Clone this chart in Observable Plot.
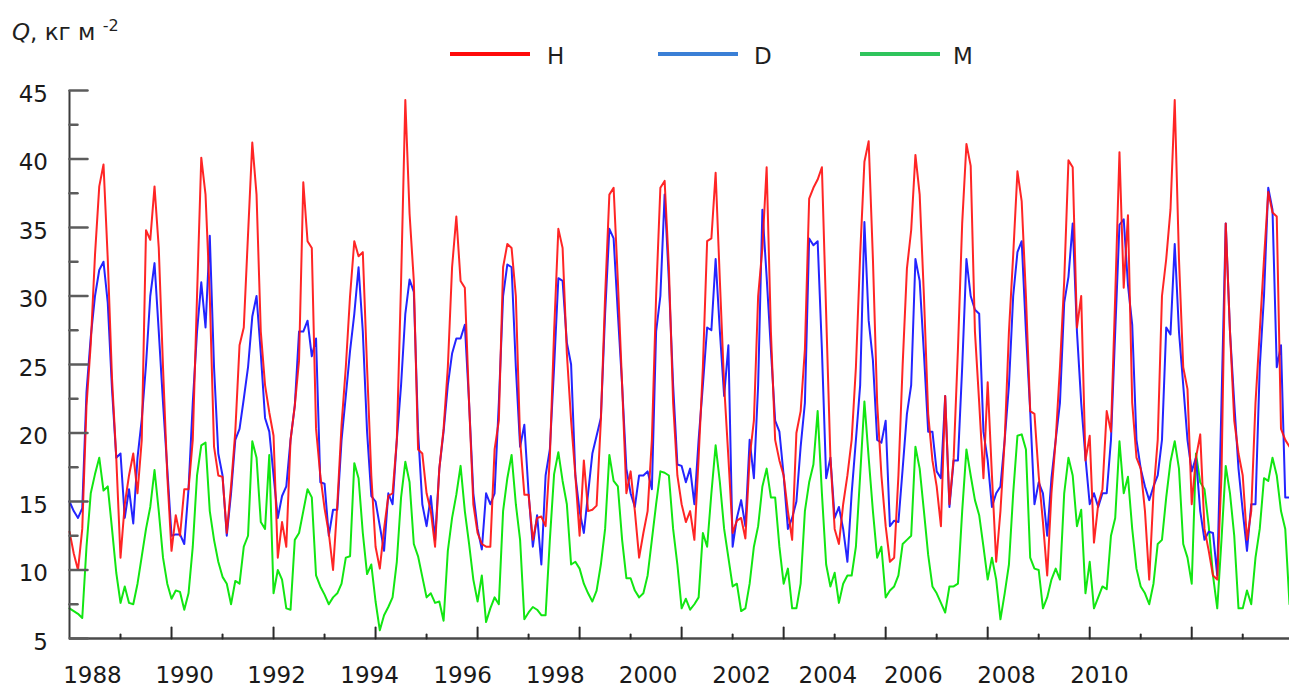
<!DOCTYPE html>
<html>
<head>
<meta charset="utf-8">
<script src="https://cdn.jsdelivr.net/npm/d3@7"></script>
<script src="https://cdn.jsdelivr.net/npm/@observablehq/plot@0.6"></script>
<style>
  body { margin: 0; background: #fff; font-family: "DejaVu Sans", sans-serif; }
  #wrap { width: 1289px; height: 688px; position: relative; overflow: hidden; background: #fff; }
  #head { position: relative; height: 85px; }
  .ylab { position: absolute; left: 12px; top: 18.5px; font-size: 23px; color: #1f1f1f; white-space: nowrap; }
  .ylab i { font-style: italic; }
  .ylab .sup { font-size: 16px; position: relative; top: -9px; }
  .sw { position: absolute; height: 4px; top: 52px; }
  .lt { position: absolute; top: 42.5px; font-size: 23px; color: #1f1f1f; }
</style>
</head>
<body>
<div id="wrap">
  <div id="head"></div>
  <div id="chart"></div>
</div>
<script>
// ---- data (monthly, 1988 onward) ----
const seriesNames = ["H", "D", "M"];
const lineColors = {H: "#ff1212", D: "#2424ff", M: "#12e612"};
const legendColors = {H: "#ff0a0a", D: "#3a7fd6", M: "#2fc45c"};

const H = [
12.8,11.2,10.0,13.0,22.0,26.5,33.0,38.0,39.6,32.7,24.0,18.2,
10.9,14.8,16.9,18.5,15.6,19.5,34.8,34.1,38.0,33.5,24.8,16.9,
11.4,14.0,12.5,15.9,15.9,19.5,30.0,40.1,37.4,30.0,19.0,16.9,
16.8,12.7,16.1,20.1,26.4,27.7,34.5,41.2,37.4,27.4,23.5,21.5,
19.8,10.9,13.5,11.7,19.5,22.0,25.3,38.3,34.0,33.5,20.3,16.9,
14.5,12.7,10.0,14.8,20.6,24.8,30.0,34.0,32.9,33.2,24.8,16.9,
11.7,10.1,13.0,15.4,15.6,19.5,31.0,44.3,36.0,31.1,18.8,18.5,
15.6,14.3,11.7,17.4,20.3,24.8,32.1,35.8,31.1,30.6,22.2,14.8,
12.7,11.9,11.7,11.7,18.8,20.9,32.1,33.8,33.5,30.0,19.5,15.5,
15.5,12.2,13.8,13.9,13.2,18.2,27.4,34.9,33.5,25.8,20.9,16.9,
12.5,18.0,14.3,14.4,14.7,20.9,30.0,37.4,37.9,31.1,23.5,15.6,
17.2,14.3,10.9,12.7,14.3,19.5,30.0,37.9,38.4,32.1,22.2,16.9,
14.8,13.5,14.3,12.2,18.2,24.8,34.0,34.2,39.0,31.1,23.5,18.2,
12.7,13.6,13.8,12.3,18.2,20.9,30.0,33.5,39.4,27.4,19.5,18.0,
16.9,14.3,12.2,20.0,21.6,26.1,37.1,37.9,38.5,39.4,28.7,18.2,
13.0,11.9,14.8,16.9,19.5,24.8,33.0,39.8,41.3,32.7,22.2,16.9,
13.2,10.6,10.9,16.9,25.0,32.0,34.8,40.3,37.4,30.0,21.4,18.0,
16.1,13.2,22.7,14.8,18.2,26.1,35.3,41.1,39.5,27.4,22.2,16.7,
23.7,16.9,10.6,14.3,19.5,27.4,33.0,39.1,36.9,30.0,21.6,21.4,
16.9,13.5,9.6,15.6,19.5,24.8,31.1,39.9,39.4,27.7,30.0,18.0,
19.8,12.0,14.8,15.9,21.6,20.1,30.0,40.5,30.6,35.9,22.2,18.2,
17.4,14.3,9.3,15.6,19.5,30.0,32.7,36.3,44.3,32.7,24.8,23.2,
14.8,18.2,19.9,13.0,11.4,9.6,9.3,16.9,35.3,27.4,20.9,18.5,
16.9,12.2,14.3,22.2,27.4,32.7,37.6,36.1,35.8,20.3,19.5,19.0
];

const D = [
15.0,14.3,13.8,14.5,23.0,27.0,30.0,31.9,32.5,29.5,23.2,18.2,
18.5,13.8,15.9,13.4,18.2,21.0,25.0,30.0,32.4,27.4,22.2,17.4,
12.5,12.6,12.6,11.9,15.9,22.2,27.4,31.0,27.7,34.4,24.8,18.5,
16.9,12.5,15.6,19.5,20.3,22.5,24.8,28.5,30.0,25.8,21.1,20.1,
16.9,13.8,15.4,16.1,19.5,22.0,27.4,27.4,28.2,25.6,26.9,16.4,
16.3,12.5,14.4,14.4,19.5,22.7,26.0,28.7,32.1,27.4,20.1,15.4,
15.0,13.2,11.4,15.6,14.8,19.5,23.5,28.7,31.2,30.3,20.1,14.8,
13.2,15.4,12.2,17.4,20.1,23.5,25.8,26.9,26.9,27.9,22.2,15.6,
13.0,11.5,15.6,14.8,15.6,22.2,30.0,32.3,32.1,24.8,19.0,20.6,
15.6,11.7,14.0,10.4,16.9,18.8,24.8,31.3,31.1,26.6,25.0,16.9,
14.3,12.7,15.6,18.5,19.8,21.1,28.7,34.9,34.2,28.7,23.5,17.4,
15.6,14.6,16.9,16.9,17.2,15.9,27.4,30.0,37.4,31.1,23.5,17.7,
17.6,16.4,17.4,14.8,19.5,23.5,27.7,27.5,32.7,27.4,22.7,26.4,
11.7,13.8,15.1,13.2,19.5,16.7,23.5,36.3,31.4,26.1,20.9,20.1,
16.9,13.0,13.8,15.0,19.0,22.2,34.2,33.7,34.0,26.1,16.7,18.2,
13.8,14.6,13.0,10.6,15.6,19.5,23.5,35.4,28.2,25.3,19.5,19.3,
20.9,13.2,13.6,13.5,17.4,21.4,23.5,32.7,31.1,25.8,20.1,20.1,
17.2,16.7,22.7,14.6,18.0,18.0,24.8,32.7,30.0,29.0,28.7,20.1,
18.0,14.6,15.6,16.1,19.5,23.5,30.0,33.2,34.0,27.4,21.6,14.8,
16.4,15.6,12.5,16.7,19.5,22.2,29.5,31.4,35.3,27.4,22.2,18.2,
14.8,15.6,14.6,15.6,15.6,19.5,27.4,35.2,35.6,30.8,27.9,19.5,
17.4,16.1,15.1,16.1,16.9,19.5,27.7,27.2,33.8,27.4,23.5,19.5,
17.2,18.2,14.3,12.2,12.8,12.7,9.6,22.2,35.3,27.4,22.2,17.4,
14.3,11.4,14.8,14.8,24.8,30.0,37.9,36.3,24.8,26.4,15.3,15.3
];

const M = [
7.2,7.0,6.8,6.5,11.7,15.6,17.0,18.2,15.8,16.1,13.0,9.8,
7.6,8.8,7.6,7.5,9.0,11.0,13.0,14.6,17.3,14.3,10.9,9.0,
7.9,8.5,8.4,7.1,8.3,11.7,16.9,19.1,19.3,14.3,12.2,10.6,
9.5,9.0,7.5,9.2,9.0,11.7,12.5,19.4,18.2,13.5,13.0,18.4,
8.3,10.0,9.3,7.2,7.1,12.2,12.7,14.3,15.9,15.3,9.6,8.8,
8.2,7.5,8.0,8.3,9.0,10.9,11.0,17.8,16.7,12.7,9.7,10.4,
7.7,5.6,6.7,7.3,8.0,10.6,15.3,17.9,16.4,11.9,11.0,9.5,
8.0,8.3,7.6,7.7,6.3,11.4,13.8,15.5,17.6,14.3,11.9,9.3,
7.7,9.6,6.2,7.2,8.0,7.5,14.3,16.7,18.4,14.8,12.2,6.4,
6.9,7.3,7.1,6.7,6.7,12.2,17.0,18.6,16.5,14.8,10.4,10.6,
10.1,9.0,8.3,7.7,8.5,10.4,13.0,18.4,16.5,16.1,12.2,9.4,
9.4,8.5,8.0,8.3,9.6,12.2,14.8,17.2,17.1,16.9,13.0,10.4,
7.2,7.9,7.1,7.5,8.0,12.7,11.7,15.6,19.1,16.4,13.0,10.9,
8.8,9.0,7.0,7.2,9.0,11.7,13.2,16.1,17.4,15.3,15.3,11.7,
9.0,10.1,7.2,7.2,9.0,14.3,16.4,17.7,21.6,15.6,10.4,8.8,
9.8,7.6,9.0,9.6,9.6,11.7,16.9,22.3,18.2,14.3,10.9,11.7,
8.0,8.5,8.8,9.6,11.9,12.2,12.5,19.0,17.4,14.3,11.1,8.8,
8.3,7.6,6.9,8.8,8.8,9.0,14.3,18.8,16.9,15.1,14.0,11.7,
9.3,10.9,9.3,6.4,8.3,10.4,15.6,19.8,19.9,18.8,10.9,10.1,
10.0,7.2,8.0,9.3,10.1,9.3,15.6,18.2,16.9,13.2,14.4,8.3,
10.6,7.2,8.0,8.8,8.6,12.5,13.8,19.4,15.6,16.8,13.0,10.1,
8.8,8.3,7.5,9.0,11.9,12.2,15.3,17.9,19.4,17.4,11.9,10.9,
9.0,18.5,16.4,15.9,13.2,9.6,7.2,12.2,17.6,15.6,12.5,7.2,
7.2,8.5,7.5,10.9,13.0,16.7,16.5,18.2,16.9,14.3,13.0,7.5
];

// tick labels
const yTickValues = [5, 10, 15, 20, 25, 30, 35, 40, 45];
const yMinorValues = [7.5, 12.5, 17.5, 22.5, 27.5, 32.5, 37.5, 42.5];
const xLabels = ["1988","1990","1992","1994","1996","1998","2000","2002","2004","2006","2008","2010"];
const xLabelAt = [5.4, 27.1, 48.7, 70.6, 92.5, 114.3, 136.1, 158.1, 178.4, 198.5, 220.4, 242.3];
const yearStarts = d3.range(12, H.length, 12);       // yearly tick positions (month index)
const xLongTicks = yearStarts.filter((d, i) => i % 2 === 1);
const xShortTicks = yearStarts.filter((d, i) => i % 2 === 0);

const rows = H.map((h, i) => ({i, H: h, D: D[i], M: M[i]}));
const labelMap = new Map(xLabelAt.map((p, i) => [p, xLabels[i]]));

const tickShape = {draw(ctx, l) { ctx.moveTo(0, 0); ctx.lineTo(0, -l); }};
const tickStroke = "#5c5c5c";

// ---- header: axis title + legend ----
const head = document.getElementById("head");
head.innerHTML = `<div class="ylab"><i>Q</i>, кг м <span class="sup">-2</span></div>`;
const legendPos = {H: [450, 547], D: [658, 754], M: [860, 953]};
for (const s of seriesNames) {
  const [lx, tx] = legendPos[s];
  const sw = document.createElement("div");
  sw.className = "sw";
  sw.style.left = lx + "px";
  sw.style.width = "80px";
  sw.style.background = legendColors[s];
  if (s !== "H") { sw.style.height = "3.5px"; }
  head.appendChild(sw);
  const t = document.createElement("div");
  t.className = "lt";
  t.style.left = tx + "px";
  t.textContent = s;
  head.appendChild(t);
}

// ---- chart ----
const chart = Plot.plot({
  width: 1289,
  height: 603,
  marginTop: 5,
  marginBottom: 50,
  marginLeft: 69,
  marginRight: 0,
  x: {domain: [0, H.length - 1], label: null},
  y: {domain: [5, 45], label: null},
  style: {fontFamily: '"DejaVu Sans", sans-serif', fontSize: "23px", color: "#1a1a1a", background: "#fff", overflow: "visible"},
  marks: [
    Plot.line(rows, {x: "i", y: "M", stroke: lineColors.M, strokeWidth: 2}),
    Plot.line(rows, {x: "i", y: "D", stroke: lineColors.D, strokeWidth: 2}),
    Plot.line(rows, {x: "i", y: "H", stroke: lineColors.H, strokeWidth: 2, strokeOpacity: 0.92}),
    Plot.ruleX([0], {stroke: "#3c3c3c", strokeWidth: 2}),
    Plot.ruleY([5], {stroke: "#4a4a4a", strokeWidth: 2.5}),
    Plot.vector(yTickValues, {x: 0, y: d => d, length: 18, rotate: 90, anchor: "start", shape: tickShape, stroke: tickStroke, strokeWidth: 2.5}),
    Plot.vector(yMinorValues, {x: 0, y: d => d, length: 8, rotate: 90, anchor: "start", shape: tickShape, stroke: tickStroke, strokeWidth: 2.5}),
    Plot.vector(xLongTicks, {x: d => d, y: 5, length: 11, rotate: 0, anchor: "start", shape: tickShape, stroke: "#2a2a2a", strokeWidth: 2}),
    Plot.vector(xShortTicks, {x: d => d, y: 5, length: 4, rotate: 0, anchor: "start", shape: tickShape, stroke: "#2a2a2a", strokeWidth: 2}),
    Plot.axisY({ticks: yTickValues, tickSize: 0, tickPadding: 21.5, dy: 4, fill: "#1a1a1a", label: null}),
    Plot.axisX({ticks: xLabelAt, tickFormat: d => labelMap.get(d), tickSize: 0, tickPadding: 28.5, fill: "#1a1a1a", label: null})
  ]
});
document.getElementById("chart").appendChild(chart);
</script>
</body>
</html>
